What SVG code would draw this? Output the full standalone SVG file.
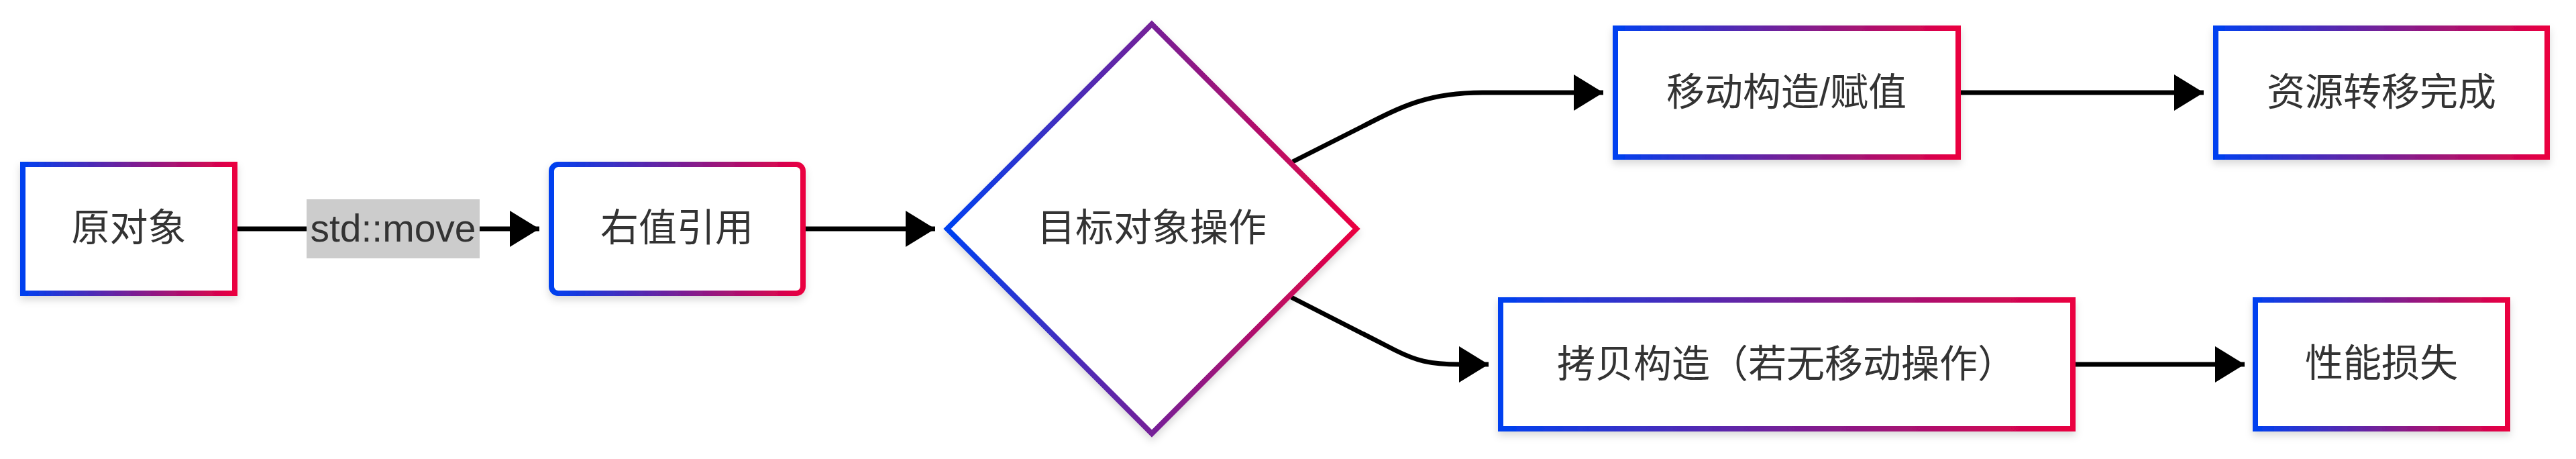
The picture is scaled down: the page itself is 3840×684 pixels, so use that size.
<svg xmlns="http://www.w3.org/2000/svg" width="3840" height="684" viewBox="0 0 3840 684">
<style>
.node{fill:#ffffff;stroke:url(#grad);stroke-width:8;filter:url(#shadow)}
.label{font-family:"Liberation Sans","Noto Sans CJK SC",sans-serif;font-size:57px;fill:#333333;text-anchor:middle}
.edge{fill:none;stroke:#000000;stroke-width:7;marker-end:url(#arrow)}
</style>
<defs>
<linearGradient id="grad" x1="0" y1="0" x2="1" y2="0">
<stop offset="0" stop-color="#0040f0"/>
<stop offset="1" stop-color="#ea0040"/>
</linearGradient>
<filter id="shadow" x="-10%" y="-10%" width="120%" height="130%">
<feDropShadow dx="0" dy="6" stdDeviation="6" flood-color="#000000" flood-opacity="0.15"/>
</filter>
<marker id="arrow" markerUnits="userSpaceOnUse" markerWidth="44" markerHeight="54" refX="44" refY="27" orient="auto">
<path d="M0,0 L44,27 L0,54 Z" fill="#000000"/>
</marker>
</defs>
<g id="connectors">
<path class="edge" d="M354,341 L804,341"/>
<rect x="457" y="297" width="258" height="88" fill="#cccccc"/>
<text class="label" x="586" y="360">std::move</text>
<path class="edge" d="M1201,341 L1394,341"/>
<path class="edge" d="M1927,241 L2030,189 C2090,158 2130,138 2210,138 L2390,138"/>
<path class="edge" d="M2923,138 L3285,138"/>
<path class="edge" d="M1925,443 L2080,522 C2110,537 2130,543 2176,543 L2219,543"/>
<path class="edge" d="M3094,543 L3346,543"/>
</g>
<g id="node-A">
<rect class="node" x="34" y="245" width="316" height="192"/>
<text class="label" x="192" y="359">原对象</text>
</g>
<g id="node-B">
<rect class="node" x="822" y="245" width="375" height="192" rx="10" ry="10"/>
<text class="label" x="1009" y="359">右值引用</text>
</g>
<g id="node-C">
<path class="node" d="M1717,36 L2022,341 L1717,646 L1412,341 Z"/>
<text class="label" x="1717" y="359">目标对象操作</text>
</g>
<g id="node-D">
<rect class="node" x="2408" y="42" width="511" height="192"/>
<text class="label" x="2663" y="157">移动构造/赋值</text>
</g>
<g id="node-E">
<rect class="node" x="3303" y="42" width="494" height="192"/>
<text class="label" x="3550" y="157">资源转移完成</text>
</g>
<g id="node-F">
<rect class="node" x="2237" y="447" width="853" height="192"/>
<text class="label" x="2663" y="562">拷贝构造（若无移动操作）</text>
</g>
<g id="node-G">
<rect class="node" x="3362" y="447" width="376" height="192"/>
<text class="label" x="3550" y="561">性能损失</text>
</g>
</svg>
